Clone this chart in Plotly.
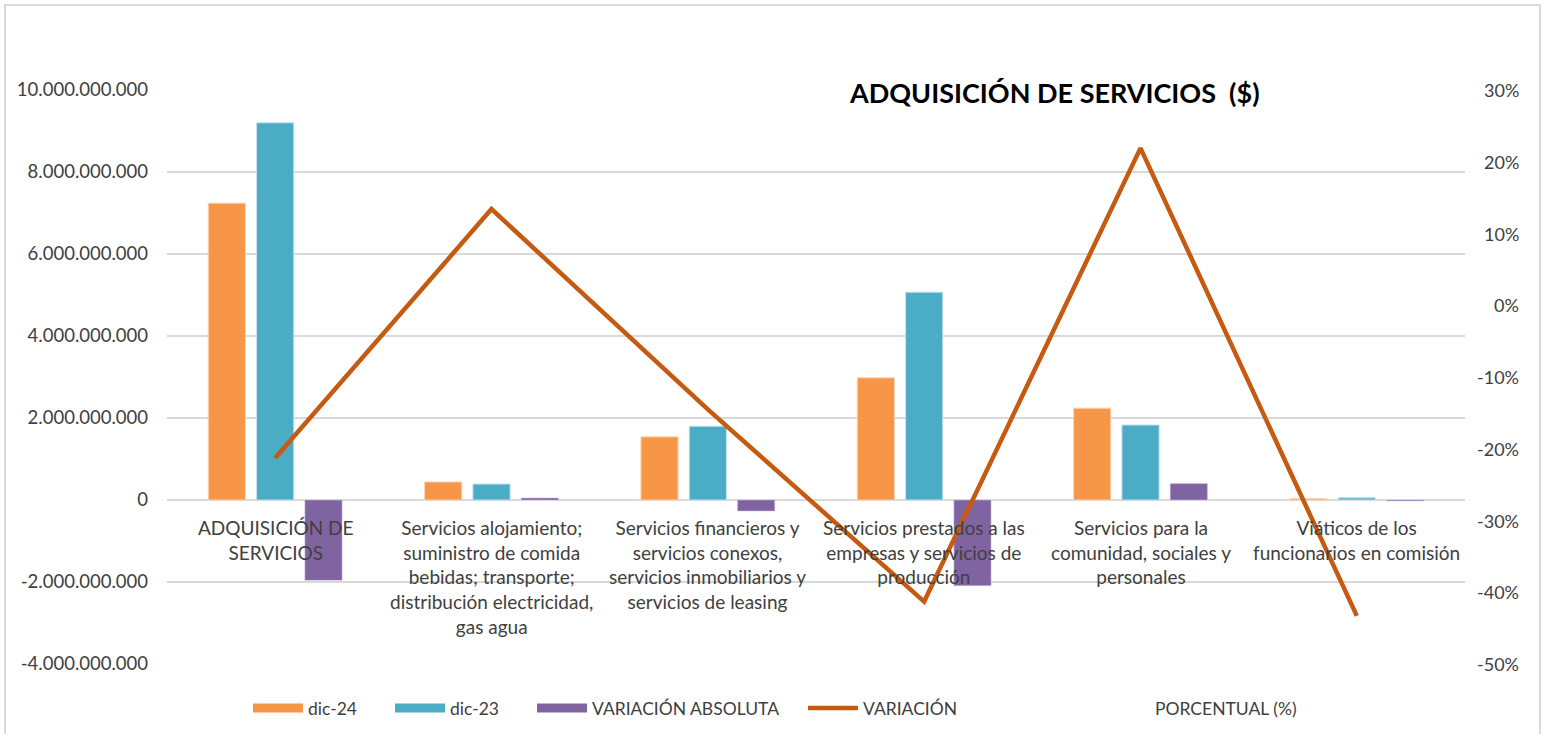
import plotly.graph_objects as go

categories = [
    "ADQUISICIÓN DE SERVICIOS",
    "Servicios alojamiento; suministro de comida bebidas; transporte; distribución electricidad, gas agua",
    "Servicios financieros y servicios conexos, servicios inmobiliarios y servicios de leasing",
    "Servicios prestados a las empresas y servicios de producción",
    "Servicios para la comunidad, sociales y personales",
    "Viáticos de los funcionarios en comisión",
]
category_labels = [
    "ADQUISICIÓN DE<br>SERVICIOS",
    "Servicios alojamiento;<br>suministro de comida<br>bebidas; transporte;<br>distribución electricidad,<br>gas agua",
    "Servicios financieros y<br>servicios conexos,<br>servicios inmobiliarios y<br>servicios de leasing",
    "Servicios prestados a las<br>empresas y servicios de<br>producción",
    "Servicios para la<br>comunidad, sociales y<br>personales",
    "Viáticos de los<br>funcionarios en comisión",
]
dic_24 = [7.24e9, 0.44e9, 1.54e9, 2.98e9, 2.24e9, 0.031e9]
dic_23 = [9.20e9, 0.39e9, 1.80e9, 5.07e9, 1.83e9, 0.055e9]
variacion_abs = [-1.96e9, 0.05e9, -0.27e9, -2.09e9, 0.40e9, -0.024e9]
variacion_pct = [-0.213, 0.134, -0.145, -0.413, 0.219, -0.433]

left_tickvals = [-4e9, -2e9, 0, 2e9, 4e9, 6e9, 8e9, 10e9]
left_ticktext = ["-4.000.000.000", "-2.000.000.000", "0", "2.000.000.000",
                 "4.000.000.000", "6.000.000.000", "8.000.000.000", "10.000.000.000"]
right_tickvals = [-0.5, -0.4, -0.3, -0.2, -0.1, 0.0, 0.1, 0.2, 0.3]
right_ticktext = ["-50%", "-40%", "-30%", "-20%", "-10%", "0%", "10%", "20%", "30%"]

FONT = "Lato"
TXT = "#404040"
C24, C23, CVA, CVP = "#F79646", "#4BACC6", "#8064A2", "#C55A11"

fig = go.Figure()
fig.add_trace(go.Bar(x=categories, y=dic_24, name="dic-24", marker_color=C24,
                     marker_line=dict(color="#FBD3B5", width=1), showlegend=False))
fig.add_trace(go.Bar(x=categories, y=dic_23, name="dic-23", marker_color=C23,
                     marker_line=dict(color="#C4E3EC", width=1), showlegend=False))
fig.add_trace(go.Bar(x=categories, y=variacion_abs, name="VARIACIÓN ABSOLUTA", marker_color=CVA,
                     marker_line=dict(color="#D2C6E0", width=0.5), showlegend=False))
fig.add_trace(go.Scatter(x=categories, y=variacion_pct, name="VARIACIÓN", mode="lines",
                         line=dict(color=CVP, width=4.5), yaxis="y2", showlegend=False))

# legend entries (wide swatches like the original)
for name, col, w, lg in [("dic-24", C24, 9, "legend"), ("dic-23", C23, 9, "legend2"),
                         ("VARIACIÓN ABSOLUTA", CVA, 9, "legend3"), ("VARIACIÓN", CVP, 4.5, "legend4")]:
    fig.add_trace(go.Scatter(x=[None], y=[None], mode="lines", name=name,
                             line=dict(color=col, width=w), legend=lg, showlegend=True,
                             hoverinfo="skip"))

W, H = 1544, 734
L, R, T, B = 167, 79, 90, 70
pw, ph = W - L - R, H - T - B

def px_x(x):
    return (x - L) / pw

def px_y(y):
    return (H - B - y) / ph

annotations = []
for c, lab in zip(categories, category_labels):
    annotations.append(dict(x=c, y=0, xref="x", yref="y", text=lab, showarrow=False,
                            yanchor="top", xanchor="center", yshift=-14,
                            font=dict(family=FONT, size=19, color=TXT)))
# right-aligned secondary axis labels, positioned by the y2 axis scale
for v, t in zip(right_tickvals, right_ticktext):
    annotations.append(dict(x=px_x(1521), y=v, xref="paper", yref="y2", text=t,
                            showarrow=False, xanchor="right", yanchor="middle",
                            font=dict(family=FONT, size=18, color=TXT)))
annotations.append(dict(x=px_x(1054), y=px_y(93), xref="paper", yref="paper",
                        text="<b>ADQUISICIÓN DE SERVICIOS  ($)</b>", showarrow=False,
                        xanchor="center", yanchor="middle",
                        font=dict(family=FONT, size=27, color="#000000")))
annotations.append(dict(x=px_x(1226), y=px_y(708), xref="paper", yref="paper",
                        text="PORCENTUAL (%)", showarrow=False,
                        xanchor="center", yanchor="middle",
                        font=dict(family=FONT, size=17.5, color=TXT)))

legend_common = dict(orientation="h", yanchor="middle", xanchor="left",
                     bgcolor="rgba(0,0,0,0)", font=dict(family=FONT, size=17.5, color=TXT),
                     itemwidth=50)

fig.update_layout(
    width=W, height=H,
    margin=dict(l=L, r=R, t=T, b=B, autoexpand=False),
    paper_bgcolor="white", plot_bgcolor="white",
    showlegend=True,
    barmode="group", bargap=0.33, bargroupgap=0.23,
    font=dict(family=FONT, size=17, color=TXT),
    xaxis=dict(showticklabels=False, showgrid=False, zeroline=False, showline=False,
               ticks=""),
    yaxis=dict(range=[-4e9, 10e9], tickvals=left_tickvals, ticktext=left_ticktext,
               showgrid=True, gridcolor="#D9D9D9", gridwidth=2, zeroline=False,
               showline=False, tickfont=dict(family=FONT, size=18.5, color=TXT), ticklabelstandoff=18),
    yaxis2=dict(range=[-0.5, 0.3], tickvals=right_tickvals, showticklabels=False,
                overlaying="y", side="right", showgrid=False, zeroline=False, showline=False),
    legend=dict(x=px_x(248), y=px_y(708), **legend_common),
    legend2=dict(x=px_x(390), y=px_y(708), **legend_common),
    legend3=dict(x=px_x(532), y=px_y(708), **legend_common),
    legend4=dict(x=px_x(803), y=px_y(708), **legend_common),
    annotations=annotations,
    shapes=[dict(type="rect", xref="paper", yref="paper",
                 x0=px_x(5), x1=px_x(1540), y0=px_y(760), y1=px_y(5),
                 line=dict(color="#D9D9D9", width=2), fillcolor="rgba(0,0,0,0)", layer="below")],
)

fig.write_html("out.html", config={"displayModeBar": False},
               post_script="document.body.style.margin='0';")
